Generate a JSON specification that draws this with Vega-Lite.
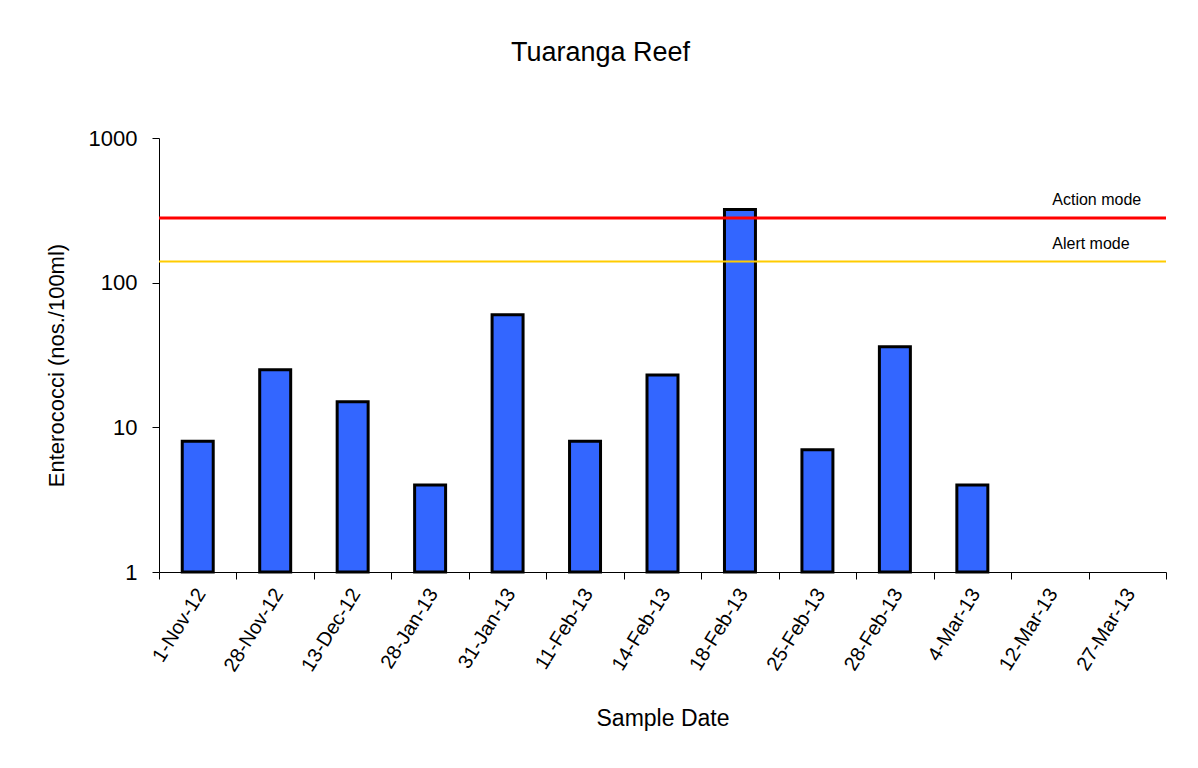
{
  "$schema": "https://vega.github.io/schema/vega-lite/v6.json",
  "width": 1007,
  "height": 434,
  "autosize": "none",
  "padding": {"left": 159, "top": 138, "right": 32, "bottom": 196},
  "background": "white",
  "title": {
    "text": "Tuaranga Reef",
    "font": "Liberation Sans",
    "fontSize": 27,
    "fontWeight": "normal",
    "color": "black",
    "anchor": "middle",
    "dx": -62,
    "offset": 60
  },
  "config": {
    "view": {"stroke": null},
    "font": "Liberation Sans"
  },
  "datasets": {
    "samples": [
      {"date": "1-Nov-12", "count": 8},
      {"date": "28-Nov-12", "count": 25},
      {"date": "13-Dec-12", "count": 15},
      {"date": "28-Jan-13", "count": 4},
      {"date": "31-Jan-13", "count": 60},
      {"date": "11-Feb-13", "count": 8},
      {"date": "14-Feb-13", "count": 23},
      {"date": "18-Feb-13", "count": 320},
      {"date": "25-Feb-13", "count": 7},
      {"date": "28-Feb-13", "count": 36},
      {"date": "4-Mar-13", "count": 4},
      {"date": "12-Mar-13", "count": null},
      {"date": "27-Mar-13", "count": null}
    ],
    "thresholds": [
      {"mode": "Action mode", "value": 280},
      {"mode": "Alert mode", "value": 140}
    ]
  },
  "encoding": {
    "x": {
      "field": "date",
      "type": "nominal",
      "sort": null,
      "scale": {
        "domain": ["1-Nov-12", "28-Nov-12", "13-Dec-12", "28-Jan-13", "31-Jan-13", "11-Feb-13", "14-Feb-13", "18-Feb-13", "25-Feb-13", "28-Feb-13", "4-Mar-13", "12-Mar-13", "27-Mar-13"],
        "paddingInner": 0,
        "paddingOuter": 0
      },
      "axis": {
        "title": "Sample Date",
        "titleFont": "Liberation Sans",
        "titleFontSize": 23,
        "titleFontWeight": "normal",
        "titleColor": "black",
        "titlePadding": 33,
        "labelAngle": -58,
        "labelAlign": "right",
        "labelBaseline": "middle",
        "labelFont": "Liberation Sans",
        "labelFontSize": 20,
        "labelColor": "black",
        "labelPadding": 11,
        "labelOffset": 3,
        "tickBand": "extent",
        "tickSize": 7,
        "tickColor": "black",
        "domainColor": "black",
        "grid": false
      }
    }
  },
  "layer": [
    {
      "data": {"name": "samples"},
      "mark": {"type": "bar", "fill": "#3366FF", "stroke": "black", "strokeWidth": 3, "width": {"band": 0.4}},
      "encoding": {
        "y": {
          "field": "count",
          "type": "quantitative",
          "scale": {"type": "log", "domain": [1, 1000], "nice": false},
          "axis": {
            "title": "Enterococci (nos./100ml)",
            "titleFont": "Liberation Sans",
            "titleFontSize": 22,
            "titleFontWeight": "normal",
            "titleColor": "black",
            "titlePadding": 20,
            "titleY": 227,
            "values": [1, 10, 100, 1000],
            "format": "d",
            "labelFont": "Liberation Sans",
            "labelFontSize": 22,
            "labelColor": "black",
            "labelPadding": 15,
            "tickSize": 7,
            "tickColor": "black",
            "domainColor": "black",
            "grid": false
          }
        },
        "y2": {"datum": 1}
      }
    },
    {
      "data": {"name": "thresholds"},
      "mark": {"type": "rule"},
      "encoding": {
        "y": {"field": "value", "type": "quantitative"},
        "color": {
          "field": "mode",
          "type": "nominal",
          "scale": {"domain": ["Action mode", "Alert mode"], "range": ["#FF0000", "#FFCC00"]},
          "legend": null
        },
        "strokeWidth": {
          "field": "mode",
          "type": "nominal",
          "scale": {"domain": ["Action mode", "Alert mode"], "range": [3, 2]},
          "legend": null
        },
        "x": null
      }
    },
    {
      "data": {"name": "thresholds"},
      "mark": {"type": "text", "align": "left", "baseline": "middle", "dx": -75, "dy": -18, "fontSize": 16, "font": "Liberation Sans", "color": "black"},
      "encoding": {
        "x": {"datum": "27-Mar-13"},
        "y": {"field": "value", "type": "quantitative"},
        "text": {"field": "mode"}
      }
    }
  ],
  "resolve": {"scale": {"color": "independent"}}
}
